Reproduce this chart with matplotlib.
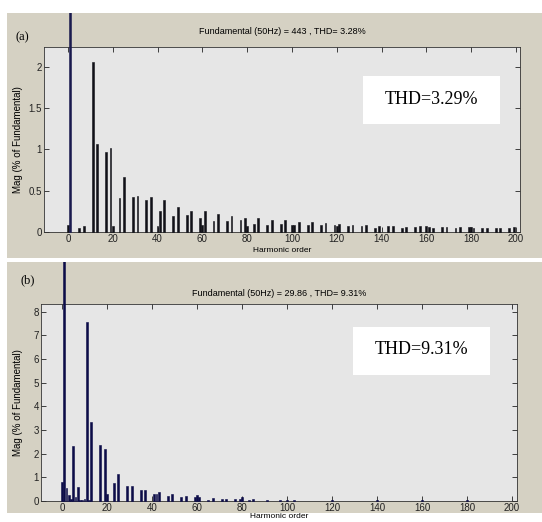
import matplotlib
matplotlib.use("Agg")
import matplotlib.pyplot as plt
from matplotlib.patches import Rectangle

W, H, DPI = 542, 522, 100
BEIGE = "#d5d1c3"
AXBG  = "#e6e6e6"
SANS  = ["Liberation Sans Narrow", "Liberation Sans", "DejaVu Sans"]

# ── data ──────────────────────────────────────────────────────────────────────
a_order = [0, 1, 5, 7, 11, 13, 17, 19, 20, 23, 25, 29, 31, 35, 37, 40, 41, 43,
           47, 49, 53, 55, 59, 60, 61, 65, 67, 71, 73, 77, 79, 80, 83, 85, 89,
           91, 95, 97, 100, 101, 103, 107, 109, 113, 115, 119, 120, 121, 125,
           127, 131, 133, 137, 139, 143, 145, 149, 151, 155, 157, 160, 161,
           163, 167, 169, 173, 175, 179, 180, 181, 185, 187, 191, 193, 197, 199]
a_mag = [0.08, 100, 0.045, 0.07, 2.06, 1.06, 0.97, 1.02, 0.07, 0.41, 0.67,
         0.42, 0.44, 0.39, 0.42, 0.07, 0.25, 0.39, 0.19, 0.30, 0.21, 0.25,
         0.17, 0.08, 0.25, 0.13, 0.22, 0.13, 0.19, 0.14, 0.17, 0.07, 0.10,
         0.17, 0.09, 0.15, 0.10, 0.14, 0.08, 0.09, 0.12, 0.08, 0.12, 0.08,
         0.11, 0.08, 0.07, 0.10, 0.07, 0.09, 0.07, 0.08, 0.05, 0.07, 0.07,
         0.07, 0.05, 0.06, 0.06, 0.07, 0.07, 0.06, 0.05, 0.06, 0.06, 0.05,
         0.06, 0.06, 0.06, 0.05, 0.05, 0.05, 0.05, 0.05, 0.05, 0.06]

b_order = [0, 1, 2, 3, 4, 5, 6, 7, 8, 9, 10, 11, 12, 13, 17, 19, 20, 23, 25,
           29, 31, 35, 37, 41, 42, 43, 47, 49, 53, 55, 59, 60, 61, 65, 67, 71,
           73, 77, 79, 80, 83, 85, 91, 97, 100, 103, 120, 140, 160, 180]
b_mag = [0.82, 100, 0.54, 0.25, 0.10, 2.32, 0.15, 0.58, 0.05, 0.06, 0.10,
         7.55, 0.05, 3.32, 2.38, 2.21, 0.28, 0.75, 1.14, 0.62, 0.62, 0.47,
         0.47, 0.28, 0.28, 0.38, 0.20, 0.28, 0.18, 0.20, 0.15, 0.25, 0.18,
         0.06, 0.12, 0.07, 0.10, 0.08, 0.10, 0.15, 0.06, 0.08, 0.05, 0.04,
         0.06, 0.04, 0.03, 0.03, 0.03, 0.03]

panels = [
    dict(order=a_order, mag=a_mag, color="#111118", fund="#1a1a4e", tag="(a)",
         title="Fundamental (50Hz) = 443 , THD= 3.28%", thd="THD=3.29%",
         bg=(7, 13, 542, 258), ax=(44, 47, 520, 232),
         xlim=(-10.7, 201.8), ylim=(0, 2.24),
         yticks=[0, 0.5, 1, 1.5, 2], yticklabels=["0", "0.5", "1", "1.5", "2"],
         box=(363, 76, 500, 124), tagpos=(22, 37), xlab_y=250, title_y=32,
         ylab_x=23),
    dict(order=b_order, mag=b_mag, color="#0c0c48", fund="#0c0c48", tag="(b)",
         title="Fundamental (50Hz) = 29.86 , THD= 9.31%", thd="THD=9.31%",
         bg=(7, 262, 542, 513), ax=(41, 304, 517, 501),
         xlim=(-9.3, 202.2), ylim=(0, 8.33),
         yticks=list(range(9)), yticklabels=[str(i) for i in range(9)],
         box=(353, 327, 490, 375), tagpos=(28, 280), xlab_y=517, title_y=294,
         ylab_x=23),
]


def fx(px):
    return px / W


def fy(py):
    return 1 - py / H


fig = plt.figure(figsize=(W / DPI, H / DPI), dpi=DPI)
fig.patch.set_facecolor("white")

for p in panels:
    x0, y0, x1, y1 = p["bg"]
    bg = Rectangle((fx(x0), fy(y1)), fx(x1 - x0), (y1 - y0) / H,
                   transform=fig.transFigure, facecolor=BEIGE,
                   edgecolor="none", zorder=-5)
    fig.patches.append(bg)

    l, t, r, b = p["ax"]
    ax = fig.add_axes([fx(l), fy(b), fx(r - l), (b - t) / H])
    ax.set_facecolor(AXBG)
    cols = [p["fund"] if h == 1 else p["color"] for h in p["order"]]
    bars = ax.bar(p["order"], p["mag"], width=0.8, color=cols,
                  edgecolor=cols, linewidth=0.4, zorder=3)
    # fundamental bar runs off the axes, clipped by the panel background
    for rect in bars:
        rect.set_clip_path(bg)
    ax.set_xlim(*p["xlim"])
    ax.set_ylim(*p["ylim"])
    ax.set_xticks(range(0, 201, 20))
    ax.set_yticks(p["yticks"])
    ax.set_yticklabels(p["yticklabels"])
    ax.tick_params(direction="in", top=True, right=True, length=3.5,
                   width=0.6, labelsize=7, pad=1.5, colors="#222222")
    for lab in ax.get_xticklabels() + ax.get_yticklabels():
        lab.set_family(SANS)
    for s in ax.spines.values():
        s.set_linewidth(0.6)
        s.set_color("#333333")
    ax.set_ylabel("Mag (% of Fundamental)", fontsize=7, family=SANS)
    ax.yaxis.set_label_coords((p["ylab_x"] - l) / (r - l), 0.5)

    fig.text(fx((l + r) / 2), fy(p["title_y"]), p["title"], fontsize=6.5,
             family=SANS, ha="center", va="center")
    fig.text(fx((l + r) / 2), fy(p["xlab_y"]), "Harmonic order", fontsize=6,
             family=SANS, ha="center", va="center")
    fig.text(fx(p["tagpos"][0]), fy(p["tagpos"][1]), p["tag"], fontsize=9,
             family="Liberation Serif", ha="center", va="center")

    bx0, by0, bx1, by1 = p["box"]
    fig.patches.append(Rectangle((fx(bx0), fy(by1)), fx(bx1 - bx0),
                                 (by1 - by0) / H, transform=fig.transFigure,
                                 facecolor="white", edgecolor="none",
                                 zorder=5))
    fig.text(fx((bx0 + bx1) / 2), fy((by0 + by1) / 2 - 1), p["thd"],
             fontsize=13, family="Liberation Serif", ha="center",
             va="center", zorder=6)

fig.savefig("out.png", dpi=DPI, facecolor="white")
